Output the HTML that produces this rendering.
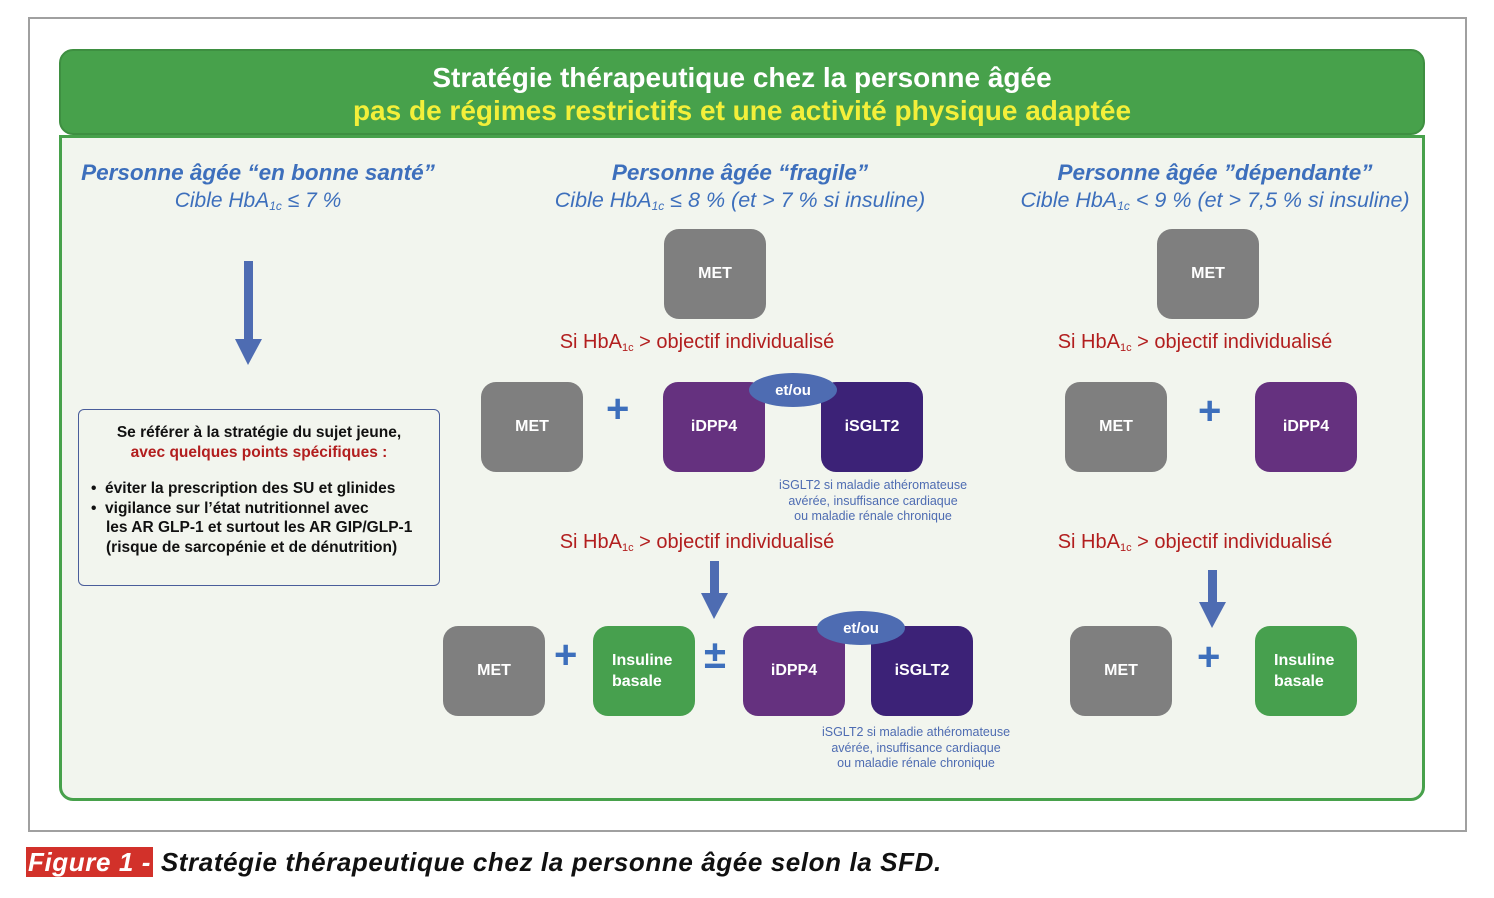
<!DOCTYPE html>
<html><head><meta charset="utf-8"><style>
body{margin:0;width:1494px;height:898px;background:#fff;position:relative;font-family:"Liberation Sans",sans-serif;overflow:hidden}
.a{position:absolute}
.frame{left:28px;top:17px;width:1435px;height:811px;border:2px solid #a0a0a0}
.hdr{left:59px;top:49px;width:1366px;height:86px;background:#47a14b;border:2px solid #3e8f41;border-radius:14px;text-align:center;font-weight:bold;font-size:28px;line-height:33px;color:#fff;box-sizing:border-box;padding-top:10px}
.hdr span{color:#f3ef3a}
.body{left:59px;top:135px;width:1366px;height:666px;background:#f2f5ee;border:3px solid #47a14b;border-radius:0 0 14px 14px;box-sizing:border-box}
.t{text-align:center;color:#3d6fbc;font-style:italic;font-size:21px;line-height:27px}
.t b{font-weight:bold;font-size:22.5px}
sub{font-size:12px;vertical-align:-3px}
.bx{position:absolute;width:102px;height:90px;border-radius:15px;color:#fff;font-weight:bold;font-size:16px;display:flex;align-items:center;justify-content:center;text-align:center}
.g{background:#7f7f7f}.p{background:#65317f}.d{background:#3c2277}.gr{background:#47a04e}
.el{position:absolute;width:88px;height:34px;border-radius:50%;background:#4e6cb2;color:#fff;font-weight:bold;font-size:15px;display:flex;align-items:center;justify-content:center}
.r{position:absolute;color:#b21e1e;font-size:20px;text-align:center;width:400px}
.r sub{font-size:11px;vertical-align:-3px}
.n{position:absolute;color:#4e6cb2;font-size:12.5px;line-height:15.5px;text-align:center;width:260px}
.pl{position:absolute;color:#3d6fbc;font-weight:bold;font-size:40px;line-height:38px}
</style></head><body>
<div class="a frame"></div>
<div class="a body"></div>
<div class="a hdr">Stratégie thérapeutique chez la personne âgée<br><span>pas de régimes restrictifs et une activité physique adaptée</span></div>

<div class="a t" style="left:58px;top:159px;width:400px"><b>Personne âgée “en bonne santé”</b><br>Cible HbA<sub>1c</sub> ≤ 7 %</div>
<div class="a t" style="left:510px;top:159px;width:460px;font-size:21.5px"><b>Personne âgée “fragile”</b><br>Cible HbA<sub>1c</sub> ≤ 8 % (et &gt; 7 % si insuline)</div>
<div class="a t" style="left:985px;top:159px;width:460px;font-size:21.5px"><b>Personne âgée ”dépendante”</b><br>Cible HbA<sub>1c</sub> &lt; 9 % (et &gt; 7,5 % si insuline)</div>

<svg class="a" style="left:0;top:0" width="1494" height="898">
<g fill="#4e6cb2">
<rect x="244" y="261" width="9" height="80"/><polygon points="235,339 262,339 248,365"/>
<rect x="710" y="561" width="9" height="34"/><polygon points="701,593 728,593 714,619"/>
<rect x="1208" y="570" width="9" height="34"/><polygon points="1199,602 1226,602 1212,628"/>
</g></svg>

<div class="a" style="left:78px;top:409px;width:362px;height:177px;border:1.5px solid #4a5d9a;border-radius:6px;box-sizing:border-box;font-weight:bold;font-size:15.5px;line-height:19.5px;color:#111">
<div style="text-align:center;margin-top:13px">Se référer à la stratégie du sujet jeune,<br><span style="color:#b21e1e">avec quelques points spécifiques :</span></div>
<div style="margin-top:17px;padding-left:12px">•&nbsp; éviter la prescription des SU et glinides<br>•&nbsp; vigilance sur l’état nutritionnel avec<br><span style="padding-left:15px">les AR GLP-1 et surtout les AR GIP/GLP-1</span><br><span style="padding-left:15px">(risque de sarcopénie et de dénutrition)</span></div>
</div>

<!-- fragile -->
<div class="bx g" style="left:664px;top:229px">MET</div>
<div class="r" style="left:497px;top:331px">Si HbA<sub>1c</sub> &gt; objectif individualisé</div>
<div class="bx g" style="left:481px;top:382px">MET</div>
<div class="pl" style="left:606px;top:390px">+</div>
<div class="bx p" style="left:663px;top:382px">iDPP4</div>
<div class="bx d" style="left:821px;top:382px">iSGLT2</div>
<div class="el" style="left:749px;top:373px">et/ou</div>
<div class="n" style="left:743px;top:478px">iSGLT2 si maladie athéromateuse<br>avérée, insuffisance cardiaque<br>ou maladie rénale chronique</div>
<div class="r" style="left:497px;top:531px">Si HbA<sub>1c</sub> &gt; objectif individualisé</div>
<div class="bx g" style="left:443px;top:626px">MET</div>
<div class="pl" style="left:554px;top:636px">+</div>
<div class="bx gr" style="left:593px;top:626px;text-align:left;justify-content:flex-start;padding-left:19px;box-sizing:border-box;line-height:21px">Insuline<br>basale</div>
<div class="pl" style="left:704px;top:636px">±</div>
<div class="bx p" style="left:743px;top:626px">iDPP4</div>
<div class="bx d" style="left:871px;top:626px">iSGLT2</div>
<div class="el" style="left:817px;top:611px">et/ou</div>
<div class="n" style="left:786px;top:725px">iSGLT2 si maladie athéromateuse<br>avérée, insuffisance cardiaque<br>ou maladie rénale chronique</div>

<!-- dependent -->
<div class="bx g" style="left:1157px;top:229px">MET</div>
<div class="r" style="left:995px;top:331px">Si HbA<sub>1c</sub> &gt; objectif individualisé</div>
<div class="bx g" style="left:1065px;top:382px">MET</div>
<div class="pl" style="left:1198px;top:392px">+</div>
<div class="bx p" style="left:1255px;top:382px">iDPP4</div>
<div class="r" style="left:995px;top:531px">Si HbA<sub>1c</sub> &gt; objectif individualisé</div>
<div class="bx g" style="left:1070px;top:626px">MET</div>
<div class="pl" style="left:1197px;top:638px">+</div>
<div class="bx gr" style="left:1255px;top:626px;text-align:left;justify-content:flex-start;padding-left:19px;box-sizing:border-box;line-height:21px">Insuline<br>basale</div>

<div class="a" style="left:26px;top:845px;height:35px;font-weight:bold;font-style:italic;font-size:26px;letter-spacing:0.6px;line-height:35px;color:#111;white-space:nowrap"><span style="background:#d2312a;color:#fff;padding:0 2px">Figure 1 -</span> Stratégie thérapeutique chez la personne âgée selon la SFD.</div>
</body></html>
